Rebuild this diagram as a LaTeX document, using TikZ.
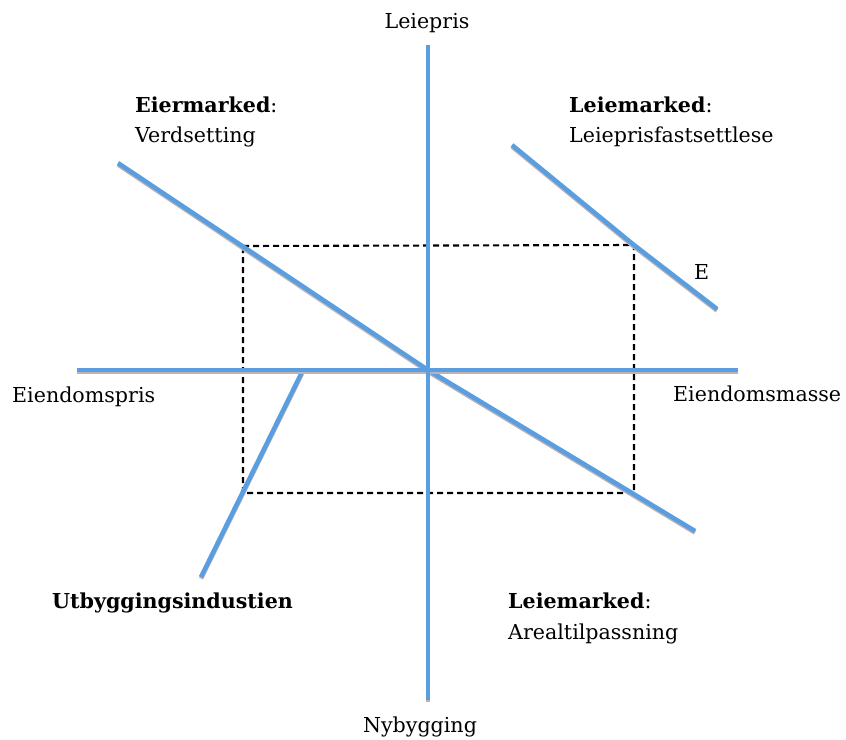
\documentclass[tikz,border=0pt]{standalone}
\usepackage{fontspec}
\setmainfont{DejaVu Serif}
\usepackage{tikz}
\usetikzlibrary{calc}
\definecolor{lineblue}{RGB}{88,158,224}
\definecolor{shadowgray}{RGB}{190,178,180}
\tikzset{
  curve/.style={lineblue, line width=4.5pt, line join=round,
    preaction={draw=shadowgray, line width=4.5pt, line join=round, transform canvas={yshift=-1.6pt}}},
  guide/.style={black, line width=2.1pt, dash pattern=on 6pt off 4pt},
  lbl/.style={inner sep=0pt, font=\fontsize{20.6}{24}\selectfont}
}

\begin{document}
\begin{tikzpicture}[x=1pt,y=-1pt]
      \useasboundingbox (0,0) rectangle (846,739);
      % axes
      \coordinate (ytop) at (428,45);
      \coordinate (ybot) at (428,700);
      \coordinate (xleft) at (77,370);
      \coordinate (xright) at (738,370);
      \coordinate (O) at (428,370);
      % corners of the four-quadrant loop
      \coordinate (c1) at (243,246);
      \coordinate (c2) at (634,245);
      \coordinate (c3) at (634,493);
      \coordinate (c4) at (243,493);
      % dashed loop
      \draw [guide] (c1) -- (c2) -- (c3) -- (c4) -- cycle;
      % quadrant curves
      \coordinate (eA) at (118,163);
      \coordinate (eB) at (695,531);
      \coordinate (lA) at (512,145);
      \coordinate (lB) at (717,309);
      \coordinate (uA) at (302,372);
      \coordinate (uB) at (201,577);
      \draw [curve] (eA) -- (O) -- (eB);
      \draw [curve] (lA) -- (c2) -- (lB);
      \draw [curve] (uA) -- (uB);
      \draw [curve] (xleft) -- (xright);
      \draw [curve] (ytop) -- (ybot);
      % axis labels
      \node [lbl, anchor=base] (leiepris) at (427,28) {Leiepris};
      \node [lbl, anchor=base] (nybygging) at (420,732) {Nybygging};
      \node [lbl, anchor=base west] (eiendomspris) at (12,402) {Eiendomspris};
      \node [lbl, anchor=base west] (eiendomsmasse) at (673,401) {Eiendomsmasse};
      \node [lbl, anchor=base west] (E) at (694,279) {E};
      % quadrant labels
      \node [lbl, anchor=base west] (eiermarked) at (135,112) {\textbf{Eiermarked}:};
      \node [lbl, anchor=base west] (verdsetting) at (135,142) {Verdsetting};
      \node [lbl, anchor=base west] (leiemarkedA) at (569,112) {\textbf{Leiemarked}:};
      \node [lbl, anchor=base west] (leiepf) at (569,142) {Leieprisfastsettlese};
      \node [lbl, anchor=base west] (utbygging) at (52,608) {\textbf{Utbyggingsindustien}};
      \node [lbl, anchor=base west] (leiemarkedB) at (508,608) {\textbf{Leiemarked}:};
      \node [lbl, anchor=base west] (areal) at (508,639) {Arealtilpassning};
\end{tikzpicture}
\end{document}
